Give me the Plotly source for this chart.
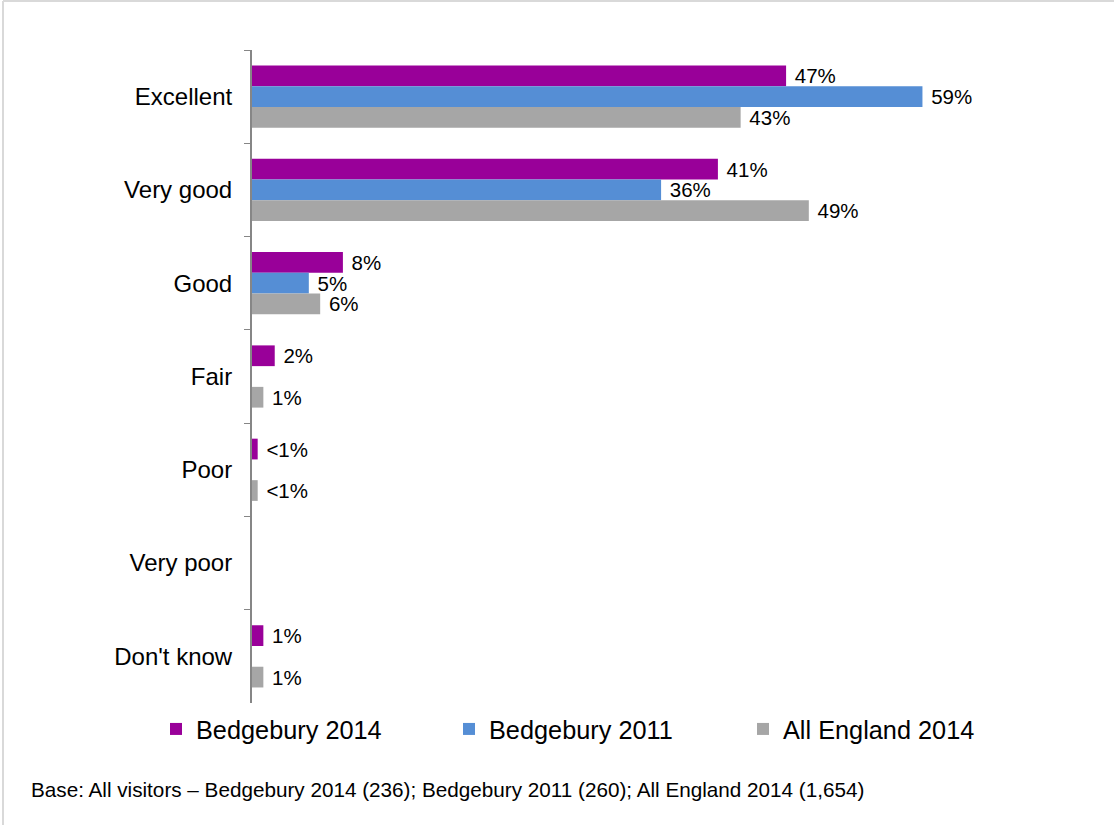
import plotly.graph_objects as go

categories = ["Excellent", "Very good", "Good", "Fair", "Poor", "Very poor", "Don't know"]
series_names = ["Bedgebury 2014", "Bedgebury 2011", "All England 2014"]
bedgebury_2014 = [47, 41, 8, 2, 0.5, None, 1]
bedgebury_2011 = [59, 36, 5, None, None, None, None]
all_england_2014 = [43, 49, 6, 1, 0.5, None, 1]
colors = ["#990099", "#558ED5", "#A6A6A6"]
base_note = "Base: All visitors \u2013 Bedgebury 2014 (236); Bedgebury 2011 (260); All England 2014 (1,654)"

W, H = 1114, 825
L, R, T, B = 252, 112, 50, 122
XMAX = 66
FONT = "Arial, Liberation Sans, sans-serif"


def label(v):
    if v is None:
        return ""
    if v < 1:
        return "\u00a0<1%"
    return "\u00a0%d%%" % v


legend_ids = ["legend", "legend2", "legend3"]
legend_px = [156, 449, 743]

fig = go.Figure()
for name, vals, col, lg in zip(series_names, [bedgebury_2014, bedgebury_2011, all_england_2014], colors, legend_ids):
    fig.add_trace(go.Bar(
        y=categories, x=vals, name=name, orientation="h",
        marker=dict(color=col, line=dict(width=0)),
        text=[label(v) for v in vals], textposition="outside",
        textfont=dict(size=20.5, color="#000000", family=FONT),
        constraintext="none", cliponaxis=False, legend=lg,
    ))

pw = W - L - R
ph = H - T - B
px2x = lambda px: (px - L) / pw
py2y = lambda py: (H - B - py) / ph


def legend_cfg(px):
    return dict(
        orientation="h", xref="container", yref="container",
        x=px / W, y=1 - 729 / H, xanchor="left", yanchor="middle",
        font=dict(size=25.3, color="#000000", family=FONT),
        bgcolor="rgba(0,0,0,0)",
    )


fig.update_layout(
    width=W, height=H,
    margin=dict(l=L, r=R, t=T, b=B, pad=0, autoexpand=False),
    paper_bgcolor="white", plot_bgcolor="white",
    barmode="group", bargap=0.333, bargroupgap=0,
    font=dict(family=FONT, color="#000000"),
    xaxis=dict(range=[0, XMAX], visible=False, showgrid=False, zeroline=False),
    yaxis=dict(
        categoryorder="array", categoryarray=categories, autorange="reversed",
        showline=True, linecolor="#868686", linewidth=2,
        ticks="outside", ticklen=6, tickcolor="#868686", tickwidth=1,
        tickson="boundaries", showgrid=False, zeroline=False,
        tickfont=dict(size=24, color="#000000", family=FONT),
        ticklabelstandoff=13, automargin=False,
    ),
    showlegend=True,
    legend=legend_cfg(legend_px[0]),
    legend2=legend_cfg(legend_px[1]),
    legend3=legend_cfg(legend_px[2]),
    annotations=[dict(
        text=base_note, xref="paper", yref="paper",
        x=px2x(29), y=py2y(790), xanchor="left", yanchor="middle",
        showarrow=False, font=dict(size=20.7, color="#000000", family=FONT),
    )],
    shapes=[
        dict(type="line", xref="paper", yref="paper", x0=px2x(3), x1=px2x(W + 5),
             y0=py2y(1), y1=py2y(1), line=dict(color="#D9D9D9", width=2)),
        dict(type="line", xref="paper", yref="paper", x0=px2x(3), x1=px2x(3),
             y0=py2y(1), y1=py2y(H + 5), line=dict(color="#D9D9D9", width=2)),
    ],
)

fig.write_html("out.html")
